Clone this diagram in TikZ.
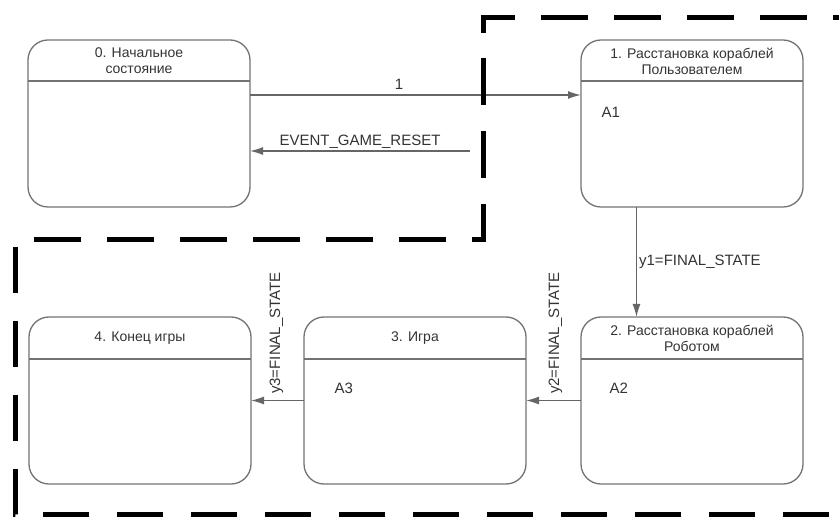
\documentclass[tikz,border=0pt]{standalone}
\usepackage{fontspec}
\setmainfont{Liberation Sans}
\usetikzlibrary{positioning,arrows.meta}

\tikzset{
	state/.style={draw=black!55, line width=1.3pt, rounded corners=20pt,
		minimum width=222pt, minimum height=167pt, outer sep=0pt},
	divider/.style={draw=black!55, line width=1.3pt},
	title/.style={align=center, text=black!80, font=\fontsize{14}{16}\selectfont},
	action/.style={text=black!80, font=\fontsize{15}{17}\selectfont, anchor=west},
	trans/.style={draw=black!60, line width=1.3pt, -{Latex[length=13pt,width=8pt]}},
	tlabel/.style={text=black!80, font=\fontsize{15}{17}\selectfont, inner sep=2pt},
	group/.style={draw=black, line width=5pt, line join=miter, dash pattern=on 47pt off 26pt}
}

\begin{document}
\begin{tikzpicture}[x=1pt, y=-1pt]
	\useasboundingbox (0,0) rectangle (839,518);
	\clip (0,0) rectangle (839,518);
	
	\node[state] (s0) at (139,123.5) {};
	\node[state, right = 331pt of s0] (s1) {};
	\node[state, below = 110pt of s1] (s2) {};
	\node[state, left = 55pt of s2] (s3) {};
	\node[state, left = 53pt of s3] (s4) {};
	
	\draw[divider] ([yshift=-41pt]s0.north west) -- ([yshift=-41pt]s0.north east);
	\draw[divider] ([yshift=-41pt]s1.north west) -- ([yshift=-41pt]s1.north east);
	\draw[divider] ([yshift=-42pt]s2.north west) -- ([yshift=-42pt]s2.north east);
	\draw[divider] ([yshift=-42pt]s3.north west) -- ([yshift=-42pt]s3.north east);
	\draw[divider] ([yshift=-42pt]s4.north west) -- ([yshift=-42pt]s4.north east);
	
	\node[title] (t0) at ([yshift=-21pt]s0.north) {0. Начальное\\состояние};
	\node[title] (t1) at ([yshift=-21pt]s1.north) {1. Расстановка кораблей\\Пользователем};
	\node[title] (t2) at ([yshift=-21pt]s2.north) {2. Расстановка кораблей\\Роботом};
	\node[title] (t3) at ([yshift=-21pt]s3.north) {3. Игра};
	\node[title] (t4) at ([yshift=-21pt]s4.north) {4. Конец игры};
	
	\node[action] (a1) at ([xshift=17pt,yshift=-72pt]s1.north west) {A1};
	\node[action] (a2) at ([xshift=25pt,yshift=-71pt]s2.north west) {A2};
	\node[action] (a3) at ([xshift=27pt,yshift=-71pt]s3.north west) {A3};
	
	\coordinate (reset) at (470,151);
	
	\draw[trans] ([yshift=28.5pt]s0.east) -- node[tlabel, above, pos=0.45, yshift=3pt] {1} ([yshift=28.5pt]s1.west);
	\draw[trans] (reset) -- node[tlabel, above] {EVENT\_GAME\_RESET} (s0.east |- reset);
	\draw[trans] ([xshift=-55.5pt]s1.south) -- node[tlabel, right] {y1=FINAL\_STATE} ([xshift=-55.5pt]s2.north);
	\draw[trans] (s2.west) -- node[tlabel, rotate=90, anchor=west, xshift=4pt, yshift=-2pt] {y2=FINAL\_STATE} (s3.east);
	\draw[trans] (s3.west) -- node[tlabel, rotate=90, anchor=west, xshift=4pt, yshift=1pt] {y3=FINAL\_STATE} (s4.east);
	
	\draw[group] (483,33) -- (483,18) -- (860,18);
	\draw[group, dash phase=48pt] (483,33) -- (483,240) -- (15,240);
	\draw[group, dash pattern=on 46pt off 28pt, dash phase=67pt] (15,240) -- (15,515) -- (860,515);
\end{tikzpicture}
\end{document}
